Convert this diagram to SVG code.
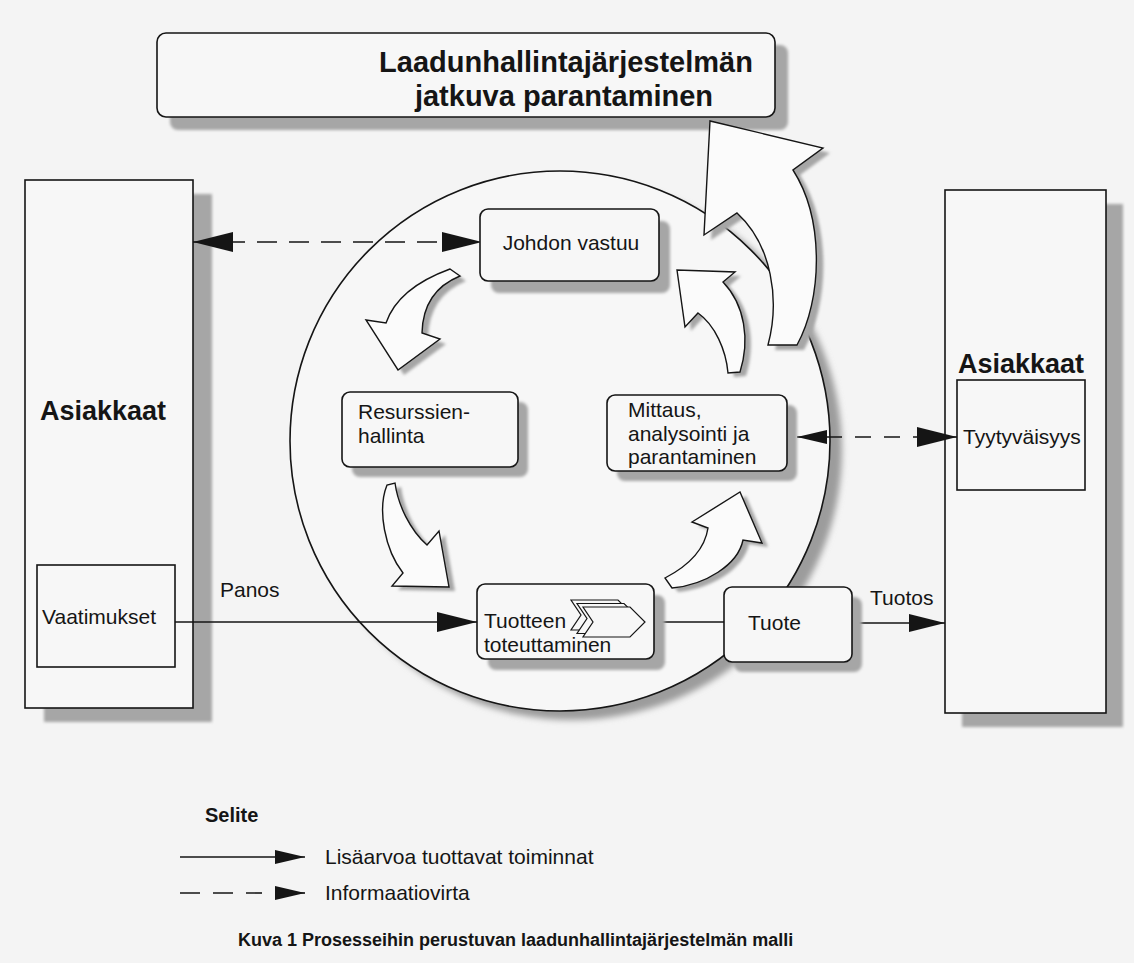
<svg xmlns="http://www.w3.org/2000/svg" width="1134" height="963" viewBox="0 0 1134 963">
<defs>
<style>
text{font-family:"Liberation Sans",Arial,sans-serif;fill:#151515}
.t21{font-size:21px}
.b27{font-size:27px;font-weight:bold}
.box{fill:#f7f7f7;stroke:#151515;stroke-width:1.6}
.sh{fill:#a6a6a6;filter:url(#blur)}
.ln{stroke:#151515;stroke-width:1.6;fill:none}
.dash{stroke-dasharray:20 12}
.blk{fill:#fbfbfb;stroke:#151515;stroke-width:1.4;stroke-linejoin:miter}
.chev{fill:#f7f7f7;stroke:#151515;stroke-width:1.2}
</style>
<filter id="blur" x="-10%" y="-10%" width="120%" height="120%"><feGaussianBlur stdDeviation="1.8"/></filter>
<filter id="blur3" x="-10%" y="-10%" width="120%" height="120%"><feGaussianBlur stdDeviation="3"/></filter>
<marker id="ah" markerUnits="userSpaceOnUse" markerWidth="40" markerHeight="20" refX="40" refY="10" orient="auto-start-reverse"><path d="M0,0 L40,10 L0,20 Z" fill="#151515"/></marker>
<marker id="ahm" markerUnits="userSpaceOnUse" markerWidth="36" markerHeight="18" refX="36" refY="9" orient="auto-start-reverse"><path d="M0,0 L36,9 L0,18 Z" fill="#151515"/></marker>
<marker id="ahs" markerUnits="userSpaceOnUse" markerWidth="30" markerHeight="14" refX="30" refY="7" orient="auto-start-reverse"><path d="M0,0 L30,7 L0,14 Z" fill="#151515"/></marker>
<path id="a1" d="M450,269 Q398,288 386,323 L366,320 L398,370 L440,339 L422,333 Q423,291 460,276 Z"/>
<path id="a2" d="M387,485 C377,510 385,550 403,573 L392,586 L449,587 L439,531 L427,545 C410,530 398,505 395,483 Z"/>
<path id="a3" d="M665,578 C690,565 705,548 708,528 L692,522 L740,492 L762,543 L743,540 C738,565 705,585 672,588 Z"/>
<path id="a4" d="M728,373 C726,350 715,325 698,313 L685,327 L677,270 L735,272 L723,282 C745,305 750,340 740,372 Z"/>
<path id="a5" d="M768,345 C780,300 772,245 737,213 L704,235 L710,121 L823,148 L793,170 C825,220 822,300 797,345 Z"/>
<polygon id="chv" points="583,607 630,607 645,622 630,637 583,637 593,622"/>
</defs>

<rect x="0" y="0" width="1134" height="963" fill="#f4f4f4"/>

<g id="title">
<rect class="sh" x="170" y="45" width="618" height="85" rx="8"/>
<rect class="box" x="157" y="33" width="618" height="84" rx="9"/>
<text x="566" y="72" text-anchor="middle" style="font-size:29px;font-weight:bold">Laadunhallintajärjestelmän</text>
<text x="564" y="106" text-anchor="middle" style="font-size:29px;font-weight:bold">jatkuva parantaminen</text>
</g>

<g id="asiakkaat-left">
<rect class="sh" x="44" y="194" width="168" height="528"/>
<rect class="box" x="25" y="180" width="168" height="528"/>
<text class="b27" x="40" y="420">Asiakkaat</text>
</g>
<g id="vaatimukset">
<rect class="box" x="37" y="565" width="138" height="102"/>
<text class="t21" x="42" y="624">Vaatimukset</text>
</g>

<g id="asiakkaat-right">
<rect class="sh" x="962" y="204" width="161" height="523"/>
<rect class="box" x="945" y="190" width="161" height="523"/>
<text class="b27" x="958" y="373">Asiakkaat</text>
</g>
<g id="tyytyvaisyys">
<rect class="box" x="957" y="380" width="128" height="110"/>
<text class="t21" x="963" y="444">Tyytyväisyys</text>
</g>

<g id="process-circle">
<circle cx="572" cy="450" r="270" fill="#9c9c9c" filter="url(#blur3)"/>
<circle cx="560" cy="441" r="270" fill="#f7f7f7" stroke="#151515" stroke-width="1.6"/>
</g>

<g id="connectors">
<line class="ln dash" x1="193" y1="242" x2="482" y2="242" marker-start="url(#ah)" marker-end="url(#ah)"/>
<line class="ln" x1="797" y1="437" x2="957" y2="437" style="stroke-dasharray:16 13" marker-start="url(#ahs)" marker-end="url(#ah)"/>
<line class="ln" x1="175" y1="622" x2="477" y2="622" marker-end="url(#ah)"/>
<line class="ln" x1="654" y1="622" x2="724" y2="622"/>
<line class="ln" x1="852" y1="623" x2="945" y2="623" marker-end="url(#ahm)"/>
<text class="t21" x="220" y="597">Panos</text>
<text class="t21" x="870" y="605">Tuotos</text>
<use href="#a1" class="sh" transform="translate(6,5)"/>
<use href="#a1" class="blk"/>
<use href="#a2" class="sh" transform="translate(6,4)"/>
<use href="#a2" class="blk"/>
<use href="#a3" class="sh" transform="translate(6,4)"/>
<use href="#a3" class="blk"/>
<use href="#a4" class="sh" transform="translate(6,4)"/>
<use href="#a4" class="blk"/>
<use href="#a5" class="sh" transform="translate(7,5)"/>
<use href="#a5" class="blk"/>
</g>

<g id="johdon-vastuu">
<rect class="sh" x="491" y="221" width="179" height="72" rx="8"/>
<rect class="box" x="480" y="209" width="179" height="72" rx="8"/>
<text class="t21" x="571" y="250" text-anchor="middle">Johdon vastuu</text>
</g>

<g id="resurssienhallinta">
<rect class="sh" x="352" y="402" width="176" height="75" rx="8"/>
<rect class="box" x="342" y="392" width="176" height="75" rx="8"/>
<text class="t21" x="358" y="419">Resurssien-</text>
<text class="t21" x="358" y="443">hallinta</text>
</g>

<g id="mittaus">
<rect class="sh" x="617" y="405" width="180" height="76" rx="8"/>
<rect class="box" x="607" y="395" width="180" height="76" rx="8"/>
<text class="t21" x="628" y="417">Mittaus,</text>
<text class="t21" x="628" y="441">analysointi ja</text>
<text class="t21" x="628" y="464">parantaminen</text>
</g>

<g id="tuotteen-toteuttaminen">
<rect class="sh" x="488" y="595" width="177" height="75" rx="8"/>
<rect class="box" x="477" y="584" width="177" height="75" rx="8"/>
<use href="#chv" class="chev" transform="translate(-12,-7)"/>
<use href="#chv" class="chev" transform="translate(-6,-3.5)"/>
<use href="#chv" class="chev"/>
<text class="t21" x="484" y="628">Tuotteen</text>
<text class="t21" x="484" y="652">toteuttaminen</text>
</g>

<g id="tuote">
<rect class="sh" x="734" y="597" width="128" height="75" rx="8"/>
<rect class="box" x="724" y="587" width="128" height="75" rx="8"/>
<text class="t21" x="748" y="630">Tuote</text>
</g>

<g id="legend">
<text x="205" y="822" style="font-size:20px;font-weight:bold">Selite</text>
<line class="ln" x1="180" y1="857" x2="305" y2="857" marker-end="url(#ahs)"/>
<text class="t21" x="325" y="864">Lisäarvoa tuottavat toiminnat</text>
<line class="ln" x1="180" y1="893" x2="262" y2="893" style="stroke-dasharray:20 13"/>
<line class="ln" x1="275" y1="893" x2="305" y2="893" marker-end="url(#ahs)"/>
<text class="t21" x="325" y="900">Informaatiovirta</text>
</g>

<text x="238" y="946" style="font-size:18px;font-weight:bold">Kuva 1 Prosesseihin perustuvan laadunhallintajärjestelmän malli</text>
</svg>
